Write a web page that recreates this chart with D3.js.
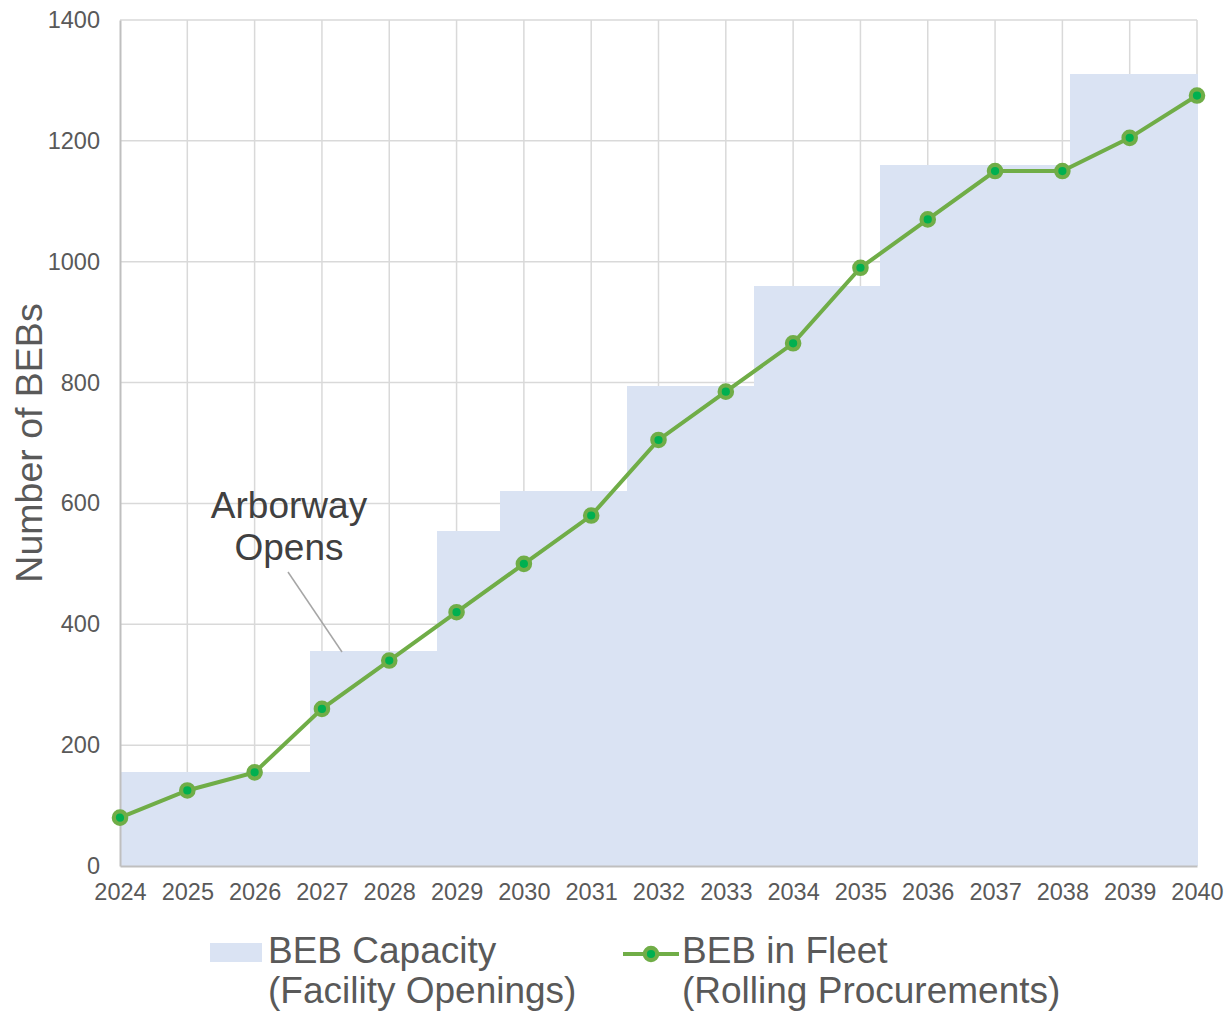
<!DOCTYPE html>
<html>
<head>
<meta charset="utf-8">
<script src="https://cdn.jsdelivr.net/npm/d3@7"></script>
<style>
  body { margin: 0; background: #fff; }
  svg text { font-family: Arial, "Liberation Sans", sans-serif; }
</style>
</head>
<body>
<div id="wrapper"></div>
<script>
// data
const years = d3.range(2024, 2041)
const fleet = [80, 125, 155, 260, 340, 420, 500, 580, 705, 785, 865, 990, 1070, 1150, 1150, 1205, 1275]
// capacity drawn as 17 equal-width columns across the plot (secondary category axis)
const capacity = [155, 155, 155, 355, 355, 555, 620, 620, 795, 795, 960, 960, 1160, 1160, 1160, 1310, 1310]
const yTicks = [0, 200, 400, 600, 800, 1000, 1200, 1400]

const dimensions = {
    width: 1227,
    height: 1012,
    margins: { top: 20, right: 30, bottom: 146, left: 120 }
}
dimensions.boundedWidth = dimensions.width - dimensions.margins.left - dimensions.margins.right
dimensions.boundedHeight = dimensions.height - dimensions.margins.top - dimensions.margins.bottom

const wrapper = d3.select("#wrapper")
    .append("svg")
        .attr("width", dimensions.width)
        .attr("height", dimensions.height)

const bounds = wrapper.append("g")
    .attr("transform", `translate(${dimensions.margins.left},${dimensions.margins.top})`)

// scales
const xScale = d3.scaleLinear()
    .domain([2024, 2040])
    .range([0, dimensions.boundedWidth])

const colScale = d3.scaleBand()
    .domain(d3.range(capacity.length))
    .range([0, dimensions.boundedWidth])
    .padding(0)

const yScale = d3.scaleLinear()
    .domain([0, 1400])
    .range([dimensions.boundedHeight, 0])

// gridlines
bounds.append("g")
    .selectAll("line")
    .data(yTicks.slice(1))
    .join("line")
        .attr("x1", 0).attr("x2", dimensions.boundedWidth)
        .attr("y1", d => yScale(d)).attr("y2", d => yScale(d))
        .attr("stroke", "#d9d9d9").attr("stroke-width", 1.5)

bounds.append("g")
    .selectAll("line")
    .data(years.slice(1))
    .join("line")
        .attr("x1", d => xScale(d)).attr("x2", d => xScale(d))
        .attr("y1", 0).attr("y2", dimensions.boundedHeight)
        .attr("stroke", "#d9d9d9").attr("stroke-width", 1.5)

// capacity area (columns with no gap)
bounds.append("g")
    .selectAll("rect")
    .data(capacity)
    .join("rect")
        .attr("x", (d, i) => colScale(i))
        .attr("width", colScale.bandwidth() + 0.5)
        .attr("y", d => yScale(d))
        .attr("height", d => dimensions.boundedHeight - yScale(d))
        .attr("fill", "#dae3f3")
        .attr("shape-rendering", "crispEdges")

// axes
const xAxis = bounds.append("g")
    .attr("transform", `translate(0,${dimensions.boundedHeight})`)
    .call(d3.axisBottom(xScale).tickValues(years).tickFormat(d3.format("d")).tickSize(0).tickPadding(17))
xAxis.select(".domain").attr("stroke", "#bfbfbf").attr("stroke-width", 2)
xAxis.selectAll("text").attr("fill", "#595959").style("font-size", "23.5px")

const yAxis = bounds.append("g")
    .call(d3.axisLeft(yScale).tickValues(yTicks).tickFormat(d3.format("d")).tickSize(0).tickPadding(20))
yAxis.select(".domain").attr("stroke", "#bfbfbf").attr("stroke-width", 2)
yAxis.selectAll("text").attr("fill", "#595959").style("font-size", "23.5px")

yAxis.append("text")
    .attr("transform", `translate(${-91},${dimensions.boundedHeight / 2}) rotate(-90)`)
    .attr("text-anchor", "middle")
    .attr("dy", "0.35em")
    .attr("fill", "#595959")
    .style("font-size", "37.5px")
    .text("Number of BEBs")

// fleet line
const line = d3.line()
    .x((d, i) => xScale(years[i]))
    .y(d => yScale(d))

bounds.append("path")
    .datum(fleet)
    .attr("d", line)
    .attr("fill", "none")
    .attr("stroke", "#70ad47")
    .attr("stroke-width", 4)

bounds.append("g")
    .selectAll("circle")
    .data(fleet)
    .join("circle")
        .attr("cx", (d, i) => xScale(years[i]))
        .attr("cy", d => yScale(d))
        .attr("r", 6.2)
        .attr("fill", "#00b050")
        .attr("stroke", "#70ad47")
        .attr("stroke-width", 4.2)

// annotation
const note = wrapper.append("g")
note.append("line")
    .attr("x1", 288).attr("y1", 572)
    .attr("x2", 342).attr("y2", 652)
    .attr("stroke", "#a6a6a6").attr("stroke-width", 1.5)
note.selectAll("text")
    .data(["Arborway", "Opens"])
    .join("text")
        .attr("x", 289)
        .attr("y", (d, i) => 518 + i * 42)
        .attr("text-anchor", "middle")
        .attr("fill", "#404040")
        .style("font-size", "37px")
        .text(d => d)

// legend
const legend = wrapper.append("g")
legend.append("rect")
    .attr("x", 210).attr("y", 943)
    .attr("width", 52).attr("height", 19)
    .attr("fill", "#dae3f3")
legend.selectAll("text.cap")
    .data(["BEB Capacity", "(Facility Openings)"])
    .join("text")
        .attr("class", "cap")
        .attr("x", 268)
        .attr("y", (d, i) => 963 + i * 40)
        .attr("fill", "#595959")
        .style("font-size", "37px")
        .text(d => d)

legend.append("line")
    .attr("x1", 623).attr("x2", 679)
    .attr("y1", 954).attr("y2", 954)
    .attr("stroke", "#70ad47").attr("stroke-width", 4)
legend.append("circle")
    .attr("cx", 651).attr("cy", 954).attr("r", 6.2)
    .attr("fill", "#00b050")
    .attr("stroke", "#70ad47").attr("stroke-width", 4.2)
legend.selectAll("text.fleet")
    .data(["BEB in Fleet", "(Rolling Procurements)"])
    .join("text")
        .attr("class", "fleet")
        .attr("x", 682)
        .attr("y", (d, i) => 963 + i * 40)
        .attr("fill", "#595959")
        .style("font-size", "37px")
        .text(d => d)
</script>
</body>
</html>
